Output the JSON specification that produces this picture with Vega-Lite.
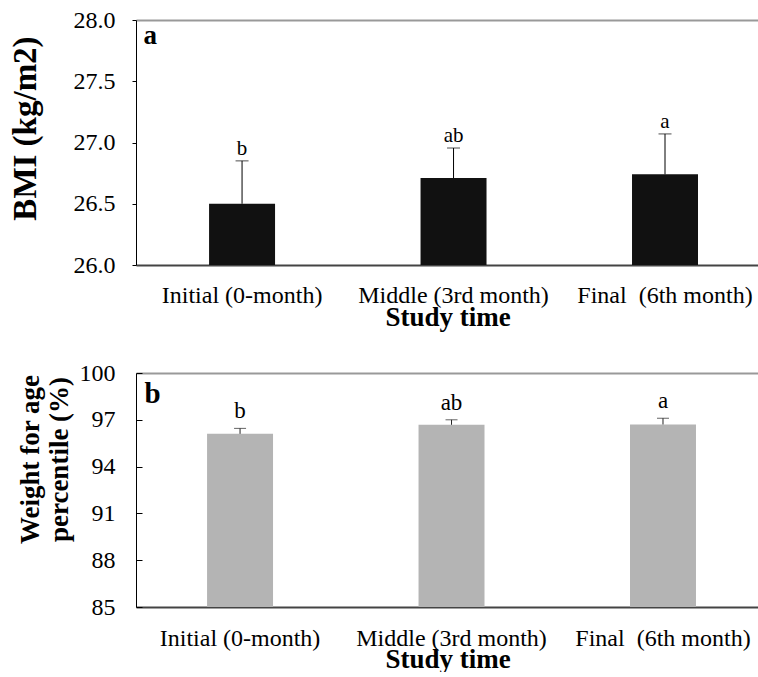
{
  "$schema": "https://vega.github.io/schema/vega-lite/v6.json",
  "padding": {"left": 9, "top": 8, "right": 0, "bottom": 0},
  "spacing": 31,
  "config": {
    "view": {"stroke": null},
    "font": "Liberation Serif",
    "axis": {"labelFont": "Liberation Serif", "titleFont": "Liberation Serif", "labelColor": "#000", "titleColor": "#000", "grid": false, "tickColor": "#000", "domainColor": "#000", "labelFontSize": 24, "labelLimit": 0}
  },
  "vconcat": [
    {
      "width": 623,
      "height": 245,
      "data": {"values": [
        {"time": "Initial (0-month)", "bmi": 26.5, "upper": 26.85, "grp": "b"},
        {"time": "Middle (3rd month)", "bmi": 26.71, "upper": 26.955, "grp": "ab"},
        {"time": "Final\u00a0 (6th month)", "bmi": 26.74, "upper": 27.07, "grp": "a"}
      ]},
      "layer": [
        {
          "mark": {"type": "bar", "color": "#111"},
          "encoding": {
            "x": {"field": "time", "type": "nominal", "sort": null,
              "scale": {"paddingInner": 0.688, "paddingOuter": 0.317, "align": 0.545},
              "axis": {"orient": "bottom", "title": "Study time", "labelAngle": 0, "ticks": false, "labelPadding": 18, "domainColor": "#444", "domainWidth": 2, "labelFont": "Liberation Serif", "titleFont": "Liberation Serif", "titleFontSize": 27, "titleFontWeight": "bold", "titlePadding": -3}},
            "y": {"field": "bmi", "type": "quantitative",
              "scale": {"domain": [26, 28], "zero": false, "nice": false},
              "axis": {"title": "BMI (kg/m2)", "values": [26, 26.5, 27, 27.5, 28], "format": ".1f", "tickSize": 4, "labelPadding": 17, "labelFont": "Liberation Serif", "titleFont": "Liberation Serif", "titlePadding": 31, "titleFontSize": 33, "titleFontWeight": "bold", "titleY": 108}},
            "y2": {"datum": 26}
          }
        },
        {
          "mark": {"type": "rule", "color": "#000", "strokeWidth": 1},
          "encoding": {
            "x": {"field": "time", "type": "nominal", "sort": null,
              "axis": {"orient": "top", "labels": false, "ticks": false, "domainColor": "#999", "domainWidth": 2,
                "title": "a", "titleFont": "Liberation Serif", "titleFontSize": 27, "titleFontWeight": "bold", "titleAngle": 0, "titleX": 7, "titleY": 23, "titleAlign": "left", "titleBaseline": "alphabetic", "titleAnchor": "start"}},
            "y": {"field": "bmi", "type": "quantitative"},
            "y2": {"field": "upper"}
          }
        },
        {
          "mark": {"type": "tick", "color": "#000", "size": 13, "thickness": 1, "orient": "horizontal"},
          "encoding": {
            "x": {"field": "time", "type": "nominal", "sort": null, "axis": null},
            "y": {"field": "upper", "type": "quantitative"}
          }
        },
        {
          "mark": {"type": "text", "fontSize": 21, "dy": -6, "baseline": "alphabetic", "color": "#000", "font": "Liberation Serif"},
          "encoding": {
            "x": {"field": "time", "type": "nominal", "sort": null, "axis": null},
            "y": {"field": "upper", "type": "quantitative"},
            "text": {"field": "grp"}
          }
        }
      ],
      "resolve": {"axis": {"x": "independent"}}
    },
    {
      "width": 623,
      "height": 234,
      "data": {"values": [
        {"time": "Initial (0-month)", "pct": 96.1, "upper": 96.45, "grp": "b"},
        {"time": "Middle (3rd month)", "pct": 96.68, "upper": 97.0, "grp": "ab"},
        {"time": "Final\u00a0 (6th month)", "pct": 96.7, "upper": 97.1, "grp": "a"}
      ]},
      "layer": [
        {
          "mark": {"type": "bar", "color": "#b4b4b4"},
          "encoding": {
            "x": {"field": "time", "type": "nominal", "sort": null,
              "scale": {"paddingInner": 0.688, "paddingOuter": 0.317, "align": 0.53},
              "axis": {"orient": "bottom", "title": "Study time", "labelAngle": 0, "ticks": false, "labelPadding": 19, "domainColor": "#444", "domainWidth": 2, "labelFont": "Liberation Serif", "titleFont": "Liberation Serif", "titleFontSize": 27, "titleFontWeight": "bold", "titlePadding": -4}},
            "y": {"field": "pct", "type": "quantitative",
              "scale": {"domain": [85, 100], "zero": false, "nice": false},
              "axis": {"title": ["Weight for age", "percentile (%)"], "values": [85, 88, 91, 94, 97, 100], "tickSize": -6, "labelPadding": 27, "labelFont": "Liberation Serif", "titleFont": "Liberation Serif", "titlePadding": 6, "titleFontSize": 27, "titleLineHeight": 29, "titleFontWeight": "bold", "titleY": 86}},
            "y2": {"datum": 85}
          }
        },
        {
          "mark": {"type": "rule", "color": "#222", "strokeWidth": 1},
          "encoding": {
            "x": {"field": "time", "type": "nominal", "sort": null,
              "axis": {"orient": "top", "labels": false, "ticks": false, "domainColor": "#999", "domainWidth": 2,
                "title": "b", "titleFont": "Liberation Serif", "titleFontSize": 29, "titleFontWeight": "bold", "titleAngle": 0, "titleX": 8, "titleY": 29, "titleAlign": "left", "titleBaseline": "alphabetic", "titleAnchor": "start"}},
            "y": {"field": "pct", "type": "quantitative"},
            "y2": {"field": "upper"}
          }
        },
        {
          "mark": {"type": "tick", "color": "#222", "size": 12, "thickness": 1, "orient": "horizontal"},
          "encoding": {
            "x": {"field": "time", "type": "nominal", "sort": null, "axis": null},
            "y": {"field": "upper", "type": "quantitative"}
          }
        },
        {
          "mark": {"type": "text", "fontSize": 23, "dy": -10, "baseline": "alphabetic", "color": "#000", "font": "Liberation Serif"},
          "encoding": {
            "x": {"field": "time", "type": "nominal", "sort": null, "axis": null},
            "y": {"field": "upper", "type": "quantitative"},
            "text": {"field": "grp"}
          }
        }
      ],
      "resolve": {"axis": {"x": "independent"}}
    }
  ]
}
